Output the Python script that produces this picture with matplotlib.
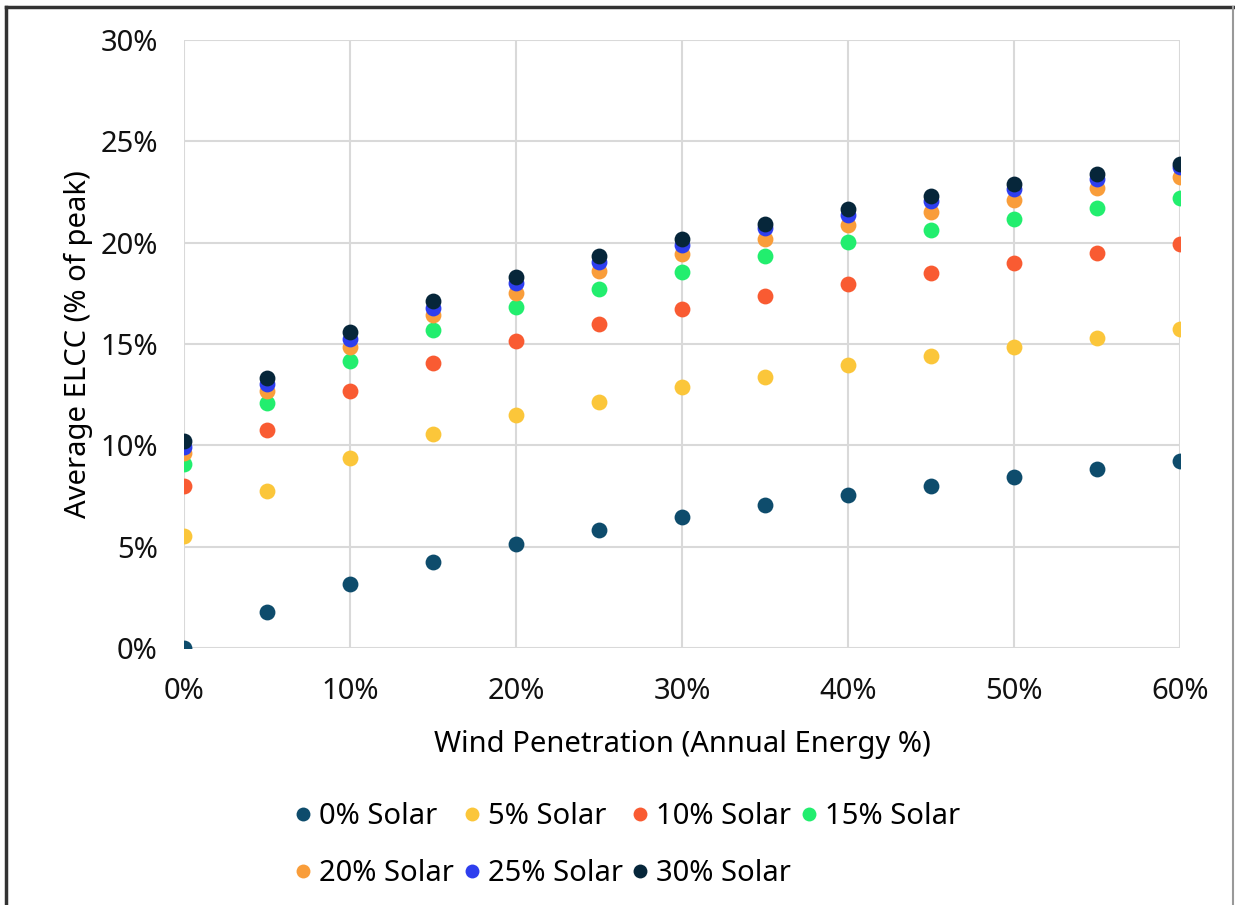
import matplotlib
matplotlib.use("Agg")
import matplotlib.pyplot as plt
from matplotlib.ticker import PercentFormatter
from matplotlib.lines import Line2D

plt.rcParams['font.family'] = ['Noto Sans', 'DejaVu Sans']

# wind penetration (% of annual energy)
wind = [0, 5, 10, 15, 20, 25, 30, 35, 40, 45, 50, 55, 60]

# average ELCC (% of peak) for each solar level
solar_0 = [0.0, 1.78, 3.16, 4.24, 5.13, 5.82, 6.46, 7.05, 7.54, 7.99, 8.43, 8.83, 9.22]
solar_5 = [5.52, 7.74, 9.37, 10.55, 11.49, 12.13, 12.87, 13.36, 13.95, 14.40, 14.84, 15.29, 15.73]
solar_10 = [7.99, 10.75, 12.67, 14.05, 15.14, 15.98, 16.72, 17.36, 17.95, 18.49, 18.98, 19.48, 19.92]
solar_15 = [9.07, 12.08, 14.15, 15.68, 16.81, 17.70, 18.54, 19.33, 20.02, 20.61, 21.15, 21.70, 22.19]
solar_20 = [9.60, 12.67, 14.86, 16.42, 17.54, 18.59, 19.43, 20.20, 20.89, 21.52, 22.12, 22.72, 23.22]
solar_25 = [9.93, 13.05, 15.24, 16.78, 17.99, 19.05, 19.86, 20.70, 21.35, 22.04, 22.63, 23.16, 23.73]
solar_30 = [10.21, 13.33, 15.57, 17.13, 18.31, 19.33, 20.17, 20.91, 21.65, 22.30, 22.88, 23.41, 23.90]

labels = ['0% Solar', '5% Solar', '10% Solar', '15% Solar',
          '20% Solar', '25% Solar', '30% Solar']
series = [solar_0, solar_5, solar_10, solar_15, solar_20, solar_25, solar_30]
colors = ['#0E4C6C', '#FBC63A', '#F95B32', '#22EE6E', '#F99D3A', '#2E3EEE', '#06263A']

fig = plt.figure(figsize=(12.35, 9.05), dpi=100)
ax = fig.add_axes([0.149, 0.284, 0.8065, 0.6718])

for vals, lab, col in zip(series, labels, colors):
    ax.scatter(wind, vals, s=130, color=col, label=lab, zorder=3, linewidths=0)

ax.set_xlim(0, 60)
ax.set_ylim(0, 30)
ax.set_xticks(range(0, 61, 10))
ax.set_yticks(range(0, 31, 5))
ax.xaxis.set_major_formatter(PercentFormatter(decimals=0))
ax.yaxis.set_major_formatter(PercentFormatter(decimals=0))
ax.grid(True, color='#D9D9D9', linewidth=1.5)
ax.set_axisbelow(True)
for s in ax.spines.values():
    s.set_visible(False)
ax.tick_params(length=0, labelsize=21, colors='#111111')
ax.tick_params(axis='y', pad=19)
ax.tick_params(axis='x', pad=21)

ax.set_xlabel('Wind Penetration (Annual Energy %)', fontsize=21, labelpad=17)
ax.set_ylabel('Average ELCC (% of peak)', fontsize=21, labelpad=5)

# legend: 4 items on first row, 3 on second
order = [0, 4, 1, 5, 2, 6, 3]
handles = [Line2D([], [], marker='o', linestyle='', markersize=10,
                  markerfacecolor=colors[i], markeredgewidth=0) for i in order]
fig.legend(handles, [labels[i] for i in order], loc='center',
           bbox_to_anchor=(0.506, 0.066), ncol=4, frameon=False, fontsize=21,
           handletextpad=0.1, columnspacing=0.15, handlelength=0.9,
           labelspacing=0.95)

# frame lines around the image
fig.add_artist(Line2D([0.005, 0.005], [0, 0.992], transform=fig.transFigure,
                      color='#333333', linewidth=2.5))
fig.add_artist(Line2D([0.005, 0.999], [0.992, 0.992], transform=fig.transFigure,
                      color='#333333', linewidth=2.5))
fig.add_artist(Line2D([0.9985, 0.9985], [0, 0.992], transform=fig.transFigure,
                      color='#999999', linewidth=1.5))

fig.savefig('out.png', dpi=100)
